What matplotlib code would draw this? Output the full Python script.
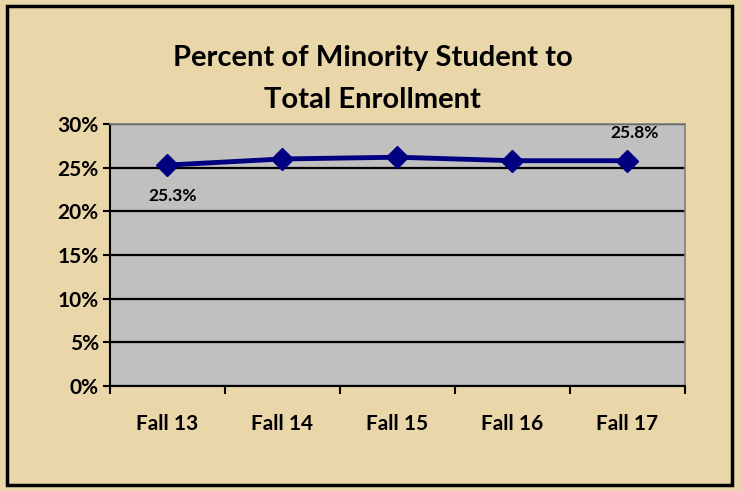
import matplotlib
matplotlib.use("Agg")
import matplotlib.pyplot as plt
from matplotlib.patches import Rectangle
import matplotlib.ticker as ticker

plt.rcParams['font.family'] = ['Lato', 'DejaVu Sans']

terms = ['Fall 13', 'Fall 14', 'Fall 15', 'Fall 16', 'Fall 17']
pct = [25.3, 26.0, 26.2, 25.8, 25.8]
y_ticks = [0, 5, 10, 15, 20, 25, 30]

parchment = '#E9D6A9'
plot_gray = '#C0C0C0'
navy = '#000080'

fig = plt.figure(figsize=(7.41, 4.91), dpi=100, facecolor=parchment)
# black frame around the whole chart
fig.patches.append(Rectangle((0.010, 0.012), 0.978, 0.976, transform=fig.transFigure,
                             fill=False, edgecolor='black', linewidth=2.5))

ax = fig.add_axes([0.1484, 0.2138, 0.776, 0.5336])
ax.set_facecolor(plot_gray)

x = list(range(len(terms)))
ax.plot(x, pct, color=navy, linewidth=3.5, marker='D', markersize=11,
        markerfacecolor=navy, markeredgecolor=navy, zorder=3)

# data labels on first and last point
ax.annotate(f'{pct[0]}%', (x[0], pct[0]), xytext=(4, -22), textcoords='offset points',
            ha='center', va='center', fontsize=12.5, fontweight='bold')
ax.annotate(f'{pct[-1]}%', (x[-1], pct[-1]), xytext=(5, 20), textcoords='offset points',
            ha='center', va='center', fontsize=12.5, fontweight='bold')

ax.set_xlim(-0.5, len(terms) - 0.5)
ax.set_ylim(0, 30)
ax.set_yticks(y_ticks)
ax.set_yticklabels([f'{v}%' for v in y_ticks], fontsize=15, fontweight='bold')
ax.yaxis.grid(True, color='black', linewidth=1.6)
ax.set_axisbelow(True)

ax.set_xticks(x)
ax.set_xticklabels(terms, fontsize=15, fontweight='bold')
ax.xaxis.set_minor_locator(ticker.FixedLocator([i - 0.5 for i in range(len(terms) + 1)]))
ax.tick_params(axis='x', which='major', length=0, pad=20)
ax.tick_params(axis='x', which='minor', length=6, width=1.5, direction='out')
ax.tick_params(axis='y', length=5, width=1.5, direction='out', pad=3)

for side in ['top', 'right']:
    ax.spines[side].set_color('#808080')
    ax.spines[side].set_linewidth(1.2)
for side in ['left', 'bottom']:
    ax.spines[side].set_color('black')
    ax.spines[side].set_linewidth(1.5)

fig.text(0.503, 0.882, 'Percent of Minority Student to', ha='center', va='center',
         fontsize=21, fontweight='bold')
fig.text(0.503, 0.797, 'Total Enrollment', ha='center', va='center',
         fontsize=21, fontweight='bold')

fig.savefig('out.png', dpi=100, facecolor=parchment)
